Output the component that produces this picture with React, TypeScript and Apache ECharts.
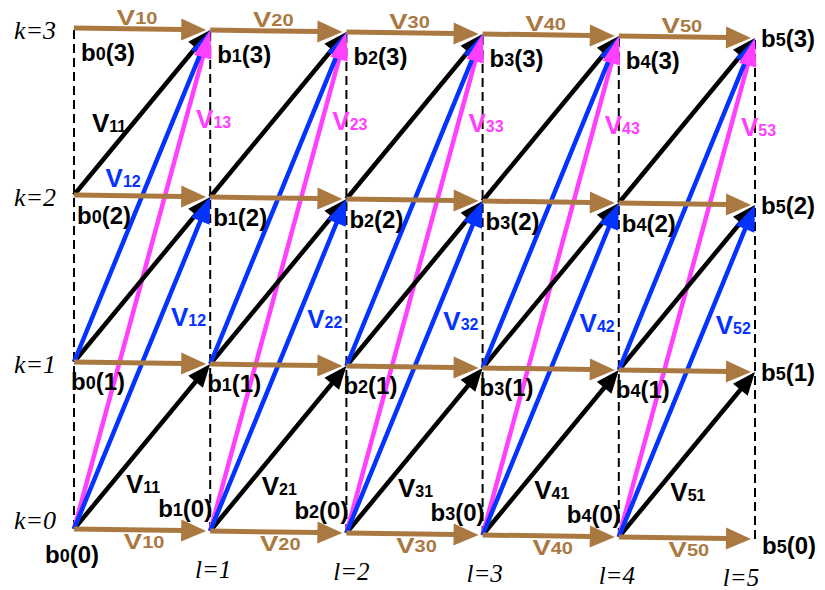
import React, { useEffect, useRef } from "react";
import * as echarts from "echarts";

// ---- Trellis structure (data) ----
const columns = [0, 1, 2, 3, 4, 5]; // stage index l
const levels = [0, 1, 2, 3]; // state index k
const jumps = [0, 1, 2, 3]; // branch type: k -> k + d
const columnLabels = ["l=1", "l=2", "l=3", "l=4", "l=5"];
const levelLabels = ["k=0", "k=1", "k=2", "k=3"];

// Labelled branches: [l (target stage), k (source state), d (jump)]
const labelledBranches = [
  [1, 3, 0], [2, 3, 0], [3, 3, 0], [4, 3, 0], [5, 3, 0],
  [1, 0, 0], [2, 0, 0], [3, 0, 0], [4, 0, 0], [5, 0, 0],
  [1, 0, 1], [2, 0, 1], [3, 0, 1], [4, 0, 1], [5, 0, 1],
  [1, 2, 1],
  [1, 1, 2],
  [1, 0, 2], [2, 0, 2], [3, 0, 2], [4, 0, 2], [5, 0, 2],
  [1, 0, 3], [2, 0, 3], [3, 0, 3], [4, 0, 3], [5, 0, 3],
];

// ---- derived tables for the library ----
const maxK = levels[levels.length - 1];
const lastL = columns[columns.length - 1];
const branches: number[][] = [];
columns.slice(1).forEach((l) =>
  levels.forEach((k) =>
    jumps.forEach((d) => {
      if (k + d <= maxK) branches.push([l - 1, k, l, k + d, d]);
    })
  )
);
const nodes: number[][] = [];
columns.forEach((l) => levels.forEach((k) => nodes.push([l, k])));

// ---- styling / layout ----
const TILT = 2; // px drop per column (the drawing is slightly sheared)
const SANS = '"Liberation Sans", Arial, Helvetica, sans-serif';
const SERIF = '"Liberation Serif", "Times New Roman", serif';
const arrowStyle = [
  { color: "#AA7942", width: 5, headLen: 25, headWidth: 22, gap: 4, lineZ: 4, headZ: 8 },
  { color: "#000000", width: 4.5, headLen: 23, headWidth: 19, gap: 0, lineZ: 2, headZ: 5 },
  { color: "#0433FF", width: 4.5, headLen: 26, headWidth: 20, gap: 0, lineZ: 3, headZ: 6 },
  { color: "#FF40FF", width: 4.5, headLen: 28, headWidth: 18, gap: 0, lineZ: 1, headZ: 7 },
];
// label font per branch type: V size, subscript size, line height, horizontal stretch
const vLabelFont = [
  { v: 22, s: 16, lh: 20, sx: 1.25 },
  { v: 26, s: 16, lh: 23, sx: 1 },
  { v: 26, s: 16, lh: 23, sx: 1 },
  { v: 26, s: 16, lh: 23, sx: 1 },
];
const vLabelPlacement: Record<string, { t: number; dx: number; dy: number }> = {
  "0-3": { t: 0.5, dx: -5, dy: -12 },
  "0-0": { t: 0.5, dx: 2, dy: 11 },
  "1-0": { t: 0.5, dx: 1, dy: 37 },
  "1-2": { t: 0.5, dx: -33, dy: 10 },
  "2-1": { t: 0.5, dx: -19, dy: -18 },
  "2-0": { t: 0.65, dx: 26, dy: 4 },
  "3-0": { t: 0.82, dx: 28, dy: -1 },
};
const nodeRowNudge: Record<number, number[]> = { 1: [-3, 19], 2: [3, 20], 3: [7, 24] };
const colLabelNudge = [0, 3, 5, 2, -2, -14];

function px(api: any, l: number, k: number) {
  const p = api.coord([l, k]);
  return [p[0], p[1] + TILT * l];
}

export default function App() {
  const ref = useRef<HTMLDivElement>(null);
  useEffect(() => {
    if (!ref.current) return;
    const chart = echarts.init(ref.current, undefined, { renderer: "svg" });

    const dashedSeries = {
      type: "custom",
      coordinateSystem: "cartesian2d",
      silent: true,
      data: columns.map((l) => [l, 0]),
      renderItem: (_p: any, api: any) => {
        const l = api.value(0);
        const a = px(api, l, levels[0]);
        const b = px(api, l, maxK);
        return {
          type: "line",
          shape: { x1: a[0], y1: a[1], x2: b[0], y2: b[1] },
          style: { stroke: "#000", lineWidth: 2, lineDash: [9, 5] },
          z2: 0,
        };
      },
    };

    const arrowSeries = {
      type: "custom",
      coordinateSystem: "cartesian2d",
      silent: true,
      data: branches,
      renderItem: (_p: any, api: any) => {
        const a = px(api, api.value(0), api.value(1));
        const b = px(api, api.value(2), api.value(3));
        const st = arrowStyle[api.value(4)];
        const dx = b[0] - a[0];
        const dy = b[1] - a[1];
        const len = Math.hypot(dx, dy);
        const ux = dx / len;
        const uy = dy / len;
        const nx = -uy;
        const ny = ux;
        const tip = [b[0] - ux * st.gap, b[1] - uy * st.gap];
        const base = [tip[0] - ux * st.headLen, tip[1] - uy * st.headLen];
        const hw = st.headWidth / 2;
        return {
          type: "group",
          children: [
            {
              type: "line",
              shape: { x1: a[0], y1: a[1], x2: base[0] + ux * 2, y2: base[1] + uy * 2 },
              style: { stroke: st.color, lineWidth: st.width },
              z2: st.lineZ,
            },
            {
              type: "polygon",
              shape: {
                points: [
                  tip,
                  [base[0] + nx * hw, base[1] + ny * hw],
                  [base[0] - nx * hw, base[1] - ny * hw],
                ],
              },
              style: { fill: st.color },
              z2: st.headZ,
            },
          ],
        };
      },
    };

    const vLabelSeries = {
      type: "custom",
      coordinateSystem: "cartesian2d",
      silent: true,
      data: labelledBranches,
      renderItem: (_p: any, api: any) => {
        const l = api.value(0);
        const k = api.value(1);
        const d = api.value(2);
        const a = px(api, l - 1, k);
        const b = px(api, l, k + d);
        const pl = vLabelPlacement[`${d}-${k}`];
        const f = vLabelFont[d];
        const color = arrowStyle[d].color;
        const x = a[0] + (b[0] - a[0]) * pl.t + pl.dx;
        const y = a[1] + (b[1] - a[1]) * pl.t + pl.dy;
        return {
          type: "text",
          x,
          y,
          scaleX: f.sx,
          style: {
            text: `{v|V}{s|${l}${d}}`,
            align: "center",
            verticalAlign: "middle",
            rich: {
              v: { fontSize: f.v, fontWeight: "bold", fontFamily: SANS, fill: color, lineHeight: f.lh },
              s: { fontSize: f.s, fontWeight: "bold", fontFamily: SANS, fill: color, lineHeight: f.s, verticalAlign: "bottom" },
            },
          },
          z2: 20,
        };
      },
    };

    const nodeLabelSeries = {
      type: "custom",
      coordinateSystem: "cartesian2d",
      silent: true,
      data: nodes,
      renderItem: (_p: any, api: any) => {
        const l = api.value(0);
        const k = api.value(1);
        const [x, y] = px(api, l, k);
        let align = "left";
        let dx = 0;
        let dy = 0;
        if (l === lastL && k === 0) {
          dx = 7;
          dy = 6;
        } else if (l === lastL) {
          dx = 6;
          dy = 0;
        } else if (k === 0 && l === 0) {
          align = "center";
          dx = -2;
          dy = 25;
        } else if (k === 0) {
          align = "right";
          dx = 2;
          dy = -23;
        } else {
          dx = nodeRowNudge[k][0];
          dy = nodeRowNudge[k][1];
        }
        return {
          type: "text",
          x: x + dx,
          y: y + dy,
          style: {
            text: `{m|b}{s|${l}}{m|(${k})}`,
            align,
            verticalAlign: "middle",
            rich: {
              m: { fontSize: 24, fontWeight: "bold", fontFamily: SANS, fill: "#000", lineHeight: 22 },
              s: { fontSize: 18, fontWeight: "bold", fontFamily: SANS, fill: "#000", lineHeight: 18, verticalAlign: "bottom" },
            },
          },
          z2: 30,
        };
      },
    };

    const levelLabelSeries = {
      type: "custom",
      coordinateSystem: "cartesian2d",
      silent: true,
      data: levels.map((k) => [0, k]),
      renderItem: (_p: any, api: any) => {
        const k = api.value(1);
        const [x, y] = px(api, 0, k);
        return {
          type: "text",
          x: x - 18,
          y: y + (k === 0 ? -9 : 2),
          style: {
            text: levelLabels[k],
            align: "right",
            verticalAlign: "middle",
            fontSize: 26,
            fontStyle: "italic",
            fontFamily: SERIF,
            fill: "#000",
          },
          z2: 30,
        };
      },
    };

    const columnLabelSeries = {
      type: "custom",
      coordinateSystem: "cartesian2d",
      silent: true,
      data: columns.slice(1).map((l) => [l, 0]),
      renderItem: (_p: any, api: any) => {
        const l = api.value(0);
        const [x, y] = px(api, l, 0);
        return {
          type: "text",
          x: x + colLabelNudge[l],
          y: y + 38,
          style: {
            text: columnLabels[l - 1],
            align: "center",
            verticalAlign: "middle",
            fontSize: 25,
            fontStyle: "italic",
            fontFamily: SERIF,
            fill: "#000",
          },
          z2: 30,
        };
      },
    };

    chart.setOption({
      animation: false,
      backgroundColor: "#ffffff",
      grid: { left: 74, right: 70, top: 28, bottom: 61 },
      xAxis: { type: "value", min: 0, max: lastL, show: false },
      yAxis: { type: "value", min: 0, max: maxK, show: false },
      series: [dashedSeries, arrowSeries, vLabelSeries, nodeLabelSeries, levelLabelSeries, columnLabelSeries],
    });
    return () => chart.dispose();
  }, []);

  return (
    <div
      ref={ref}
      style={{ position: "absolute", left: 0, top: 0, width: 825, height: 590 }}
    />
  );
}
